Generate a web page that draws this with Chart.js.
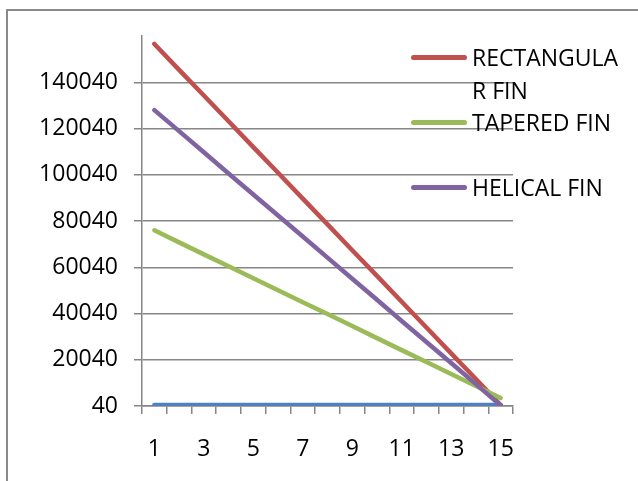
<!DOCTYPE html>
<html>
<head>
<meta charset="utf-8">
<script src="https://cdn.jsdelivr.net/npm/chart.js@4/dist/chart.umd.min.js"></script>
<style>
    body { margin: 0; background: #fff; }
    #wrap { position: relative; width: 638px; height: 481px; overflow: hidden; font-family: 'Open Sans', sans-serif; }
    #frame { position: absolute; left: 6px; top: 9px; width: 700px; height: 600px; border-left: 2px solid #8a8a8a; border-top: 2px solid #8a8a8a; }
    #chart { position: absolute; left: 0; top: 0; }
    #legend { position: absolute; left: 411px; top: 41px; }
    .item { display: flex; align-items: flex-start; height: 65px; }
    .mark { width: 56px; height: 5px; border-radius: 3px; margin-top: 14px; margin-right: 5px; flex: none; }
    .txt { font-size: 23px; line-height: 32.5px; word-break: break-all; color: #000; }
</style>
</head>
<body>
<div id="wrap">
    <div id="frame"></div>
    <canvas id="chart" width="638" height="481"></canvas>
    <div id="legend"></div>
</div>
<script>
// categories 1..15, only odd ones get a label
const categories = ['1','2','3','4','5','6','7','8','9','10','11','12','13','14','15'];

const seriesBase = [500, 500, 500, 500, 500, 500, 500, 500, 500, 500, 500, 500, 500, 500, 500];
const rectangularFin = [156600, 145400, 134300, 123200, 112000, 100900, 89700, 78600, 67400, 56300, 45100, 34000, 22800, 11700, 500];
const taperedFin = [76000, 70800, 65600, 60500, 55300, 50100, 44900, 39800, 34600, 29400, 24200, 19100, 13900, 8700, 3500];
const helicalFin = [128000, 118900, 109800, 100600, 91500, 82400, 73300, 64200, 55100, 46000, 36800, 27700, 18600, 9500, 300];

const yMin = 40;
const yMax = 160040;
const yStep = 20000;

const gridColor = '#868686';

Chart.defaults.font.family = "'Open Sans', sans-serif";
Chart.defaults.font.size = 23;
Chart.defaults.color = '#000';

const datasets = [
    { label: 'Series1', data: seriesBase, borderColor: '#4f81bd', order: 4, hideInLegend: true },
    { label: 'RECTANGULAR FIN', data: rectangularFin, borderColor: '#c0504d', order: 3 },
    { label: 'TAPERED FIN', data: taperedFin, borderColor: '#9bbb59', order: 2 },
    { label: 'HELICAL FIN', data: helicalFin, borderColor: '#8064a2', order: 1 }
];
datasets.forEach(d => {
    d.borderWidth = 4.5;
    d.pointRadius = 0;
    d.borderCapStyle = 'round';
    d.borderJoinStyle = 'round';
    d.fill = false;
    d.tension = 0;
});

const chart = new Chart(document.getElementById('chart').getContext('2d'), {
    type: 'line',
    data: { labels: categories, datasets: datasets },
    options: {
        responsive: false,
        animation: false,
        devicePixelRatio: 1,
        layout: { padding: { left: 0, top: 36, right: 125, bottom: 0 } },
        plugins: { legend: { display: false }, tooltip: { enabled: false } },
        scales: {
            x: {
                offset: true,
                grid: { offset: true, drawOnChartArea: false, tickLength: 8, color: gridColor, lineWidth: 1.5 },
                border: { color: gridColor, width: 1.5 },
                ticks: {
                    autoSkip: false,
                    maxRotation: 0,
                    padding: 22,
                    callback: (v, i) => i % 2 === 0 ? categories[i] : ''
                },
                afterFit: s => { s.height = 75; }
            },
            y: {
                min: yMin,
                max: yMax,
                grid: { tickLength: 8, color: gridColor, lineWidth: 1.5 },
                border: { color: gridColor, width: 1.5 },
                ticks: { stepSize: yStep, padding: 16, callback: v => String(v) },
                // no label / gridline at the very top
                afterBuildTicks: s => { s.ticks = s.ticks.filter(t => t.value < yMax); },
                afterFit: s => { s.width = 142; }
            }
        }
    }
});

// html legend so the long label can wrap like the original
const legend = document.getElementById('legend');
const mctx = document.createElement('canvas').getContext('2d');
mctx.font = "23px 'Open Sans'";
const boxW = Math.ceil(mctx.measureText('RECTANGULA').width) + 3;
datasets.filter(d => !d.hideInLegend).forEach(d => {
    const item = document.createElement('div');
    item.className = 'item';
    const mark = document.createElement('div');
    mark.className = 'mark';
    mark.style.background = d.borderColor;
    const txt = document.createElement('div');
    txt.className = 'txt';
    txt.style.width = boxW + 'px';
    txt.textContent = d.label;
    item.appendChild(mark);
    item.appendChild(txt);
    legend.appendChild(item);
});
</script>
</body>
</html>
